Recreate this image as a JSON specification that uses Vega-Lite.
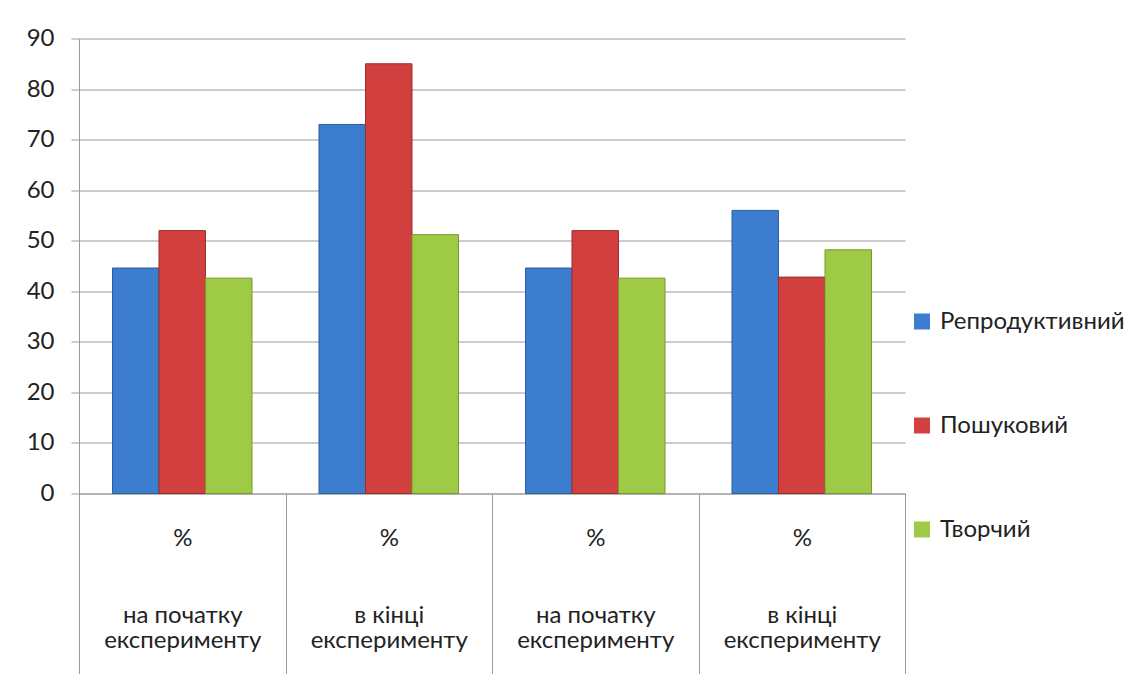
{
  "$schema": "https://vega.github.io/schema/vega-lite/v6.json",
  "width": 826,
  "height": 455,
  "autosize": {"type": "none"},
  "padding": {"left": 79, "top": 38.5, "right": 239, "bottom": 200.5},
  "background": "white",
  "config": {"font": "Lato", "view": {"stroke": null}},
  "data": {
    "values": [
      {"cat": "%|на початку|експерименту|1", "series": "Репродуктивний", "value": 44.6},
      {"cat": "%|на початку|експерименту|1", "series": "Пошуковий", "value": 52},
      {"cat": "%|на початку|експерименту|1", "series": "Творчий", "value": 42.6},
      {"cat": "%|в кінці|експерименту|2", "series": "Репродуктивний", "value": 73},
      {"cat": "%|в кінці|експерименту|2", "series": "Пошуковий", "value": 85},
      {"cat": "%|в кінці|експерименту|2", "series": "Творчий", "value": 51.2},
      {"cat": "%|на початку|експерименту|3", "series": "Репродуктивний", "value": 44.6},
      {"cat": "%|на початку|експерименту|3", "series": "Пошуковий", "value": 52},
      {"cat": "%|на початку|експерименту|3", "series": "Творчий", "value": 42.6},
      {"cat": "%|в кінці|експерименту|4", "series": "Репродуктивний", "value": 56},
      {"cat": "%|в кінці|експерименту|4", "series": "Пошуковий", "value": 42.8},
      {"cat": "%|в кінці|експерименту|4", "series": "Творчий", "value": 48.2}
    ]
  },
  "mark": {"type": "bar", "strokeWidth": 1},
  "encoding": {
    "x": {
      "field": "cat",
      "type": "nominal",
      "sort": null,
      "scale": {"paddingInner": 0, "paddingOuter": 0},
      "axis": {
        "title": null,
        "labelAngle": 0,
        "tickBand": "extent",
        "tickSize": 180,
        "tickColor": "#9a9a9a",
        "domainColor": "#9a9a9a",
        "labelPadding": -135,
        "labelFontSize": 24,
        "labelColor": "#222222",
        "labelLineHeight": 25.5,
        "labelBaseline": "middle",
        "labelExpr": "isString(datum.value) ? [split(datum.value, '|')[0], '\u200b', '\u200b', split(datum.value, '|')[1], split(datum.value, '|')[2]] : ''"
      }
    },
    "xOffset": {
      "field": "series",
      "type": "nominal",
      "sort": ["Репродуктивний", "Пошуковий", "Творчий"],
      "scale": {"paddingInner": 0, "paddingOuter": 0.72}
    },
    "y": {
      "field": "value",
      "type": "quantitative",
      "scale": {"domain": [0, 90], "nice": false},
      "axis": {
        "title": null,
        "values": [0, 10, 20, 30, 40, 50, 60, 70, 80, 90],
        "tickSize": 8,
        "tickColor": "#9a9a9a",
        "domainColor": "#9a9a9a",
        "gridColor": "#9a9a9a",
        "labelPadding": 17,
        "labelFontSize": 24,
        "labelColor": "#222222"
      }
    },
    "color": {
      "field": "series",
      "type": "nominal",
      "sort": ["Репродуктивний", "Пошуковий", "Творчий"],
      "scale": {
        "domain": ["Репродуктивний", "Пошуковий", "Творчий"],
        "range": ["#3c7dcf", "#d23f3f", "#9fca45"]
      },
      "legend": {
        "title": null,
        "orient": "none",
        "legendX": 831,
        "legendY": 271,
        "symbolType": "square",
        "symbolSize": 256,
        "symbolStrokeWidth": 0,
        "labelFontSize": 24,
        "labelLimit": 300,
        "labelColor": "#222222",
        "labelOffset": 6,
        "rowPadding": 80
      }
    },
    "stroke": {
      "field": "series",
      "type": "nominal",
      "scale": {
        "domain": ["Репродуктивний", "Пошуковий", "Творчий"],
        "range": ["#2c5e9e", "#9c2e2e", "#77982f"]
      },
      "legend": null
    }
  }
}
